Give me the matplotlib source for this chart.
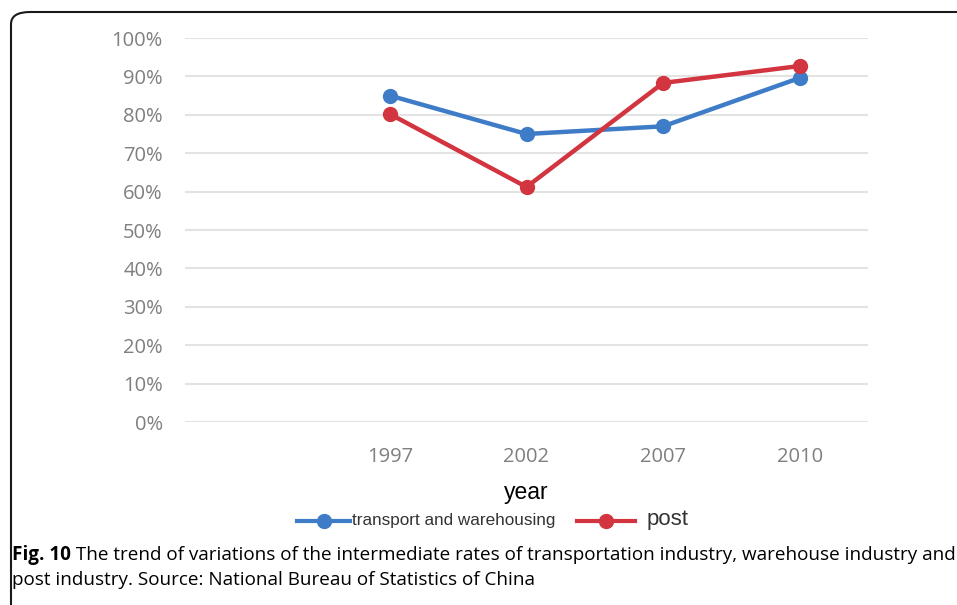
import matplotlib.pyplot as plt
from matplotlib.patches import FancyBboxPatch
from matplotlib.lines import Line2D

# data (first category of the Excel axis is blank)
years = ['', '1997', '2002', '2007', '2010']
transport = [None, 0.85, 0.75, 0.77, 0.896]
post = [None, 0.802, 0.612, 0.883, 0.927]
yticks = [0, 0.1, 0.2, 0.3, 0.4, 0.5, 0.6, 0.7, 0.8, 0.9, 1.0]
series_names = ['transport and warehousing', 'post']
cap_bold = 'Fig. 10'
cap_line1 = ' The trend of variations of the intermediate rates of transportation industry, warehouse industry and'
cap_line2 = 'post industry. Source: National Bureau of Statistics of China'

blue = '#3f7cc8'
red = '#d2353f'
grey = '#7f7f7f'

W, H = 957, 605
fig = plt.figure(figsize=(W / 100, H / 100), dpi=100)
ax = fig.add_axes([185 / W, 1 - 422 / H, (868 - 185) / W, (422 - 38) / H])

x = list(range(len(years)))
xs = x[1:]
ax.plot(xs, transport[1:], color=blue, lw=3.2, marker='o', ms=10, clip_on=False, zorder=3)
ax.plot(xs, post[1:], color=red, lw=3.2, marker='o', ms=10, clip_on=False, zorder=3)

ax.set_xlim(-0.5, len(years) - 0.5)
ax.set_ylim(0, 1.0)
ax.set_yticks(yticks)
ax.set_yticklabels([f'{int(round(v * 100))}%' for v in yticks])
ax.set_xticks(x)
ax.set_xticklabels(years)
ax.grid(axis='y', color='#e3e3e3', lw=1.5)
ax.set_axisbelow(True)
for s in ax.spines.values():
    s.set_visible(False)
ax.tick_params(axis='both', length=0, colors=grey, labelsize=14.5)
ax.tick_params(axis='y', pad=16)
ax.tick_params(axis='x', pad=18)
for t in ax.get_xticklabels() + ax.get_yticklabels():
    t.set_fontfamily('Open Sans')

fig.text(526 / W, 1 - 493 / H, 'year', ha='center', va='center',
         fontsize=16.5, family='Liberation Sans')

# legend drawn by hand so the two labels can keep their different sizes
ly = 1 - 521 / H
for (x0, x1), c in [((297, 350), blue), ((577, 635), red)]:
    fig.add_artist(Line2D([x0 / W, x1 / W], [ly, ly], color=c, lw=3,
                          transform=fig.transFigure))
    fig.add_artist(Line2D([(x0 + x1) / 2 / W], [ly], color=c, marker='o', ms=10,
                          transform=fig.transFigure))
fig.text(352 / W, ly, series_names[0], ha='left', va='center',
         fontsize=12.3, family='Liberation Sans', color='#333333')
fig.text(647 / W, ly + 2 / H, series_names[1], ha='left', va='center',
         fontsize=16, family='Liberation Sans', color='#333333')

# caption, sized so the first line spans the frame
fig.canvas.draw()
r = fig.canvas.get_renderer()
fs = 13
tb = fig.text(12 / W, 1 - 555 / H, cap_bold, ha='left', va='center',
              fontsize=fs, family='Open Sans', weight='bold')
t1 = fig.text(0, 1 - 555 / H, cap_line1, ha='left', va='center',
              fontsize=fs, family='Open Sans')
wtot = tb.get_window_extent(r).width + t1.get_window_extent(r).width
fs = fs * 941 / wtot
tb.set_fontsize(fs)
t1.set_fontsize(fs)
t1.set_x((12 + tb.get_window_extent(r).width) / W)
fig.text(12 / W, 1 - 580 / H, cap_line2, ha='left', va='center',
         fontsize=fs, family='Open Sans')

# rounded frame, open at right and bottom
frame = FancyBboxPatch((11 / W, -0.1), 1.2, 1 - 12 / H + 0.1,
                       boxstyle='round,pad=0,rounding_size=0.02',
                       transform=fig.transFigure, fill=False, ec='#1a1a1a', lw=1.5,
                       clip_on=False)
fig.patches.append(frame)

fig.savefig('out.png', dpi=100)
